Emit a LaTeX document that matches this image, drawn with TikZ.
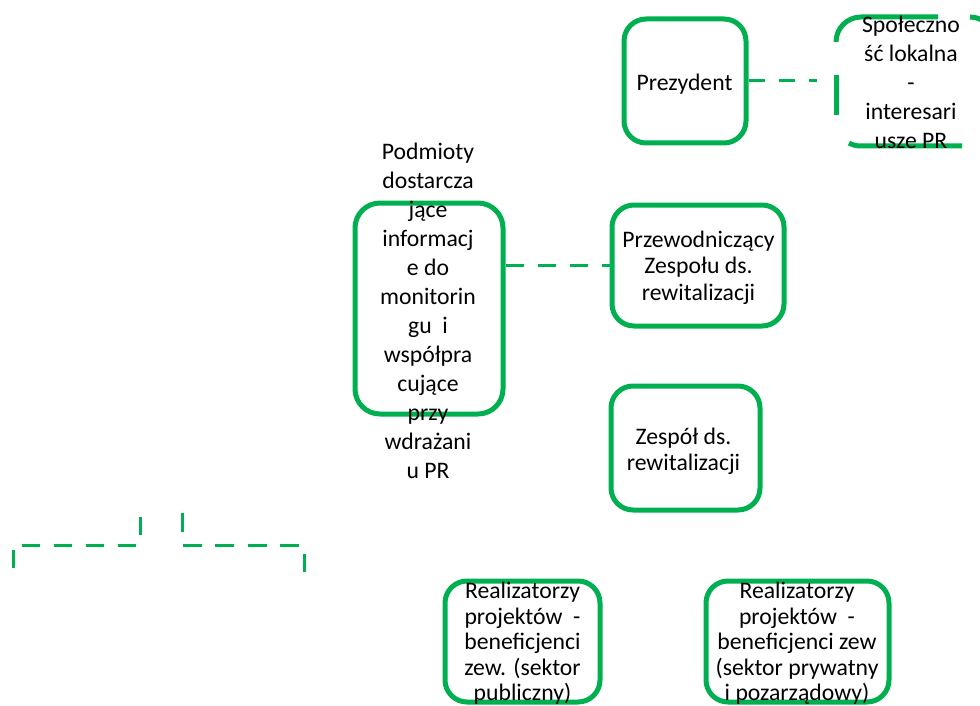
\documentclass[tikz,border=0pt]{standalone}
\usepackage{fontspec}
\setmainfont{Carlito}
\definecolor{grn}{HTML}{00B050}
\tikzset{
  box/.style={draw=grn, line width=5pt, rounded corners=22pt, inner sep=0pt},
  lbl/.style={font=\fontsize{23.7}{29}\selectfont, align=center, inner sep=0pt, text=black},
  tight/.style={font=\fontsize{23.7}{#1}\selectfont},
  link/.style={draw=grn, line width=3pt, dash pattern=on 17pt off 14pt},
  sockant/.style={draw=grn, line width=5pt},
}
\begin{document}
\begin{tikzpicture}[x=1pt,y=-1pt]
\path[use as bounding box, fill=white] (0,0) rectangle (980,706);
\clip (0,0) rectangle (980,706);

% Prezydent
\node[box, minimum width=122pt, minimum height=124pt] (prez) at (685,81) {};
\node[lbl] (prezT) at (684.5,84) {Prezydent};

% Spolecznosc lokalna (dashed outline)
\node[minimum width=159pt, minimum height=129pt, inner sep=0pt, outer sep=0pt] (soc) at (915.5,81.5) {};
\draw[sockant, rounded corners=25pt] (836,42) -- (836,17) -- (938,17);
\draw[sockant, rounded corners=25pt] (970,17) -- (995,17) -- (995,60);
\draw[sockant] (962,146) -- (861,146) .. controls (856.5,146) and (852.5,145) .. (849,143);
\draw[sockant] (836,115) -- (836,75);
\node[lbl] (socT) at (911,82.5) {Społeczno\\ść lokalna\\-\\interesari\\usze PR};
\draw[link, dash pattern=on 16pt off 14pt, shorten >=19pt] (prez.east) -- (prez.east -| soc.west);

% Podmioty
\node[box, rounded corners=25pt, minimum width=148pt, minimum height=211pt] (podm) at (429,308.5) {};
\node[lbl] (podmT) at (428,310.5) {Podmioty\\dostarcza\\jące\\informacj\\e do\\monitorin\\gu\ \ i\\współpra\\cujące\\przy\\wdrażani\\u PR};

% Przewodniczacy
\node[box, minimum width=172pt, minimum height=121pt] (przew) at (698,265.5) {};
\node[lbl, tight=26.5] (przewT) at (698.5,267.5) {Przewodniczący\\Zespołu ds.\\rewitalizacji};
\draw[link, dash pattern=on 18pt off 14pt] (podm.east |- przew.west) -- (przew.west);

% Zespol
\node[box, minimum width=149pt, minimum height=124pt] (zesp) at (685.5,448) {};
\node[lbl, tight=25.5] (zespT) at (683.5,451.5) {Zespół ds.\\rewitalizacji};

% Realizatorzy
\node[box, minimum width=155pt, minimum height=121pt] (real1) at (522.5,641.5) {};
\node[lbl, tight=25.5] (real1T) at (522.5,643.5) {Realizatorzy\\projektów\ \ -\\beneficjenci\\zew. (sektor\\publiczny)};
\node[box, minimum width=183pt, minimum height=121pt] (real2) at (797.5,641.5) {};
\node[lbl, tight=25.5] (real2T) at (797,643.5) {Realizatorzy\\projektów\ \ -\\beneficjenci zew\\(sektor prywatny\\i pozarządowy)};

% free dashed connector fragments (bottom left)
\coordinate (la) at (13,568);
\coordinate (lb) at (13,545);
\coordinate (lc) at (140,545);
\coordinate (ld) at (140,513);
\draw[link, dash pattern=on 18pt off 14pt] (la) -- (lb) -- (lc) -- (ld);
\coordinate (ra) at (182,513);
\coordinate (rb) at (182,545);
\coordinate (rc) at (304,545);
\coordinate (rd) at (304,572);
\draw[link, dash pattern=on 19pt off 13.5pt] (ra) -- (rb) -- (rc) -- (rd);
\end{tikzpicture}
\end{document}
